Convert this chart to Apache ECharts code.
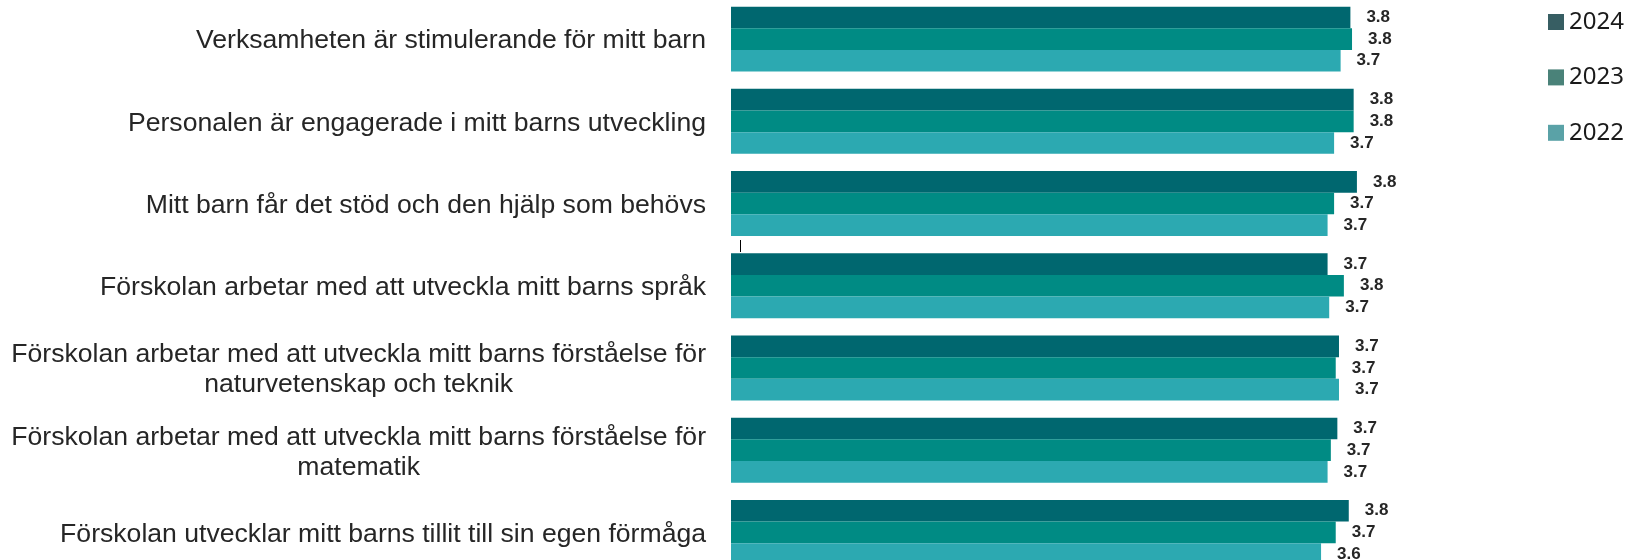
<!DOCTYPE html>
<html>
<head>
<meta charset="utf-8">
<script src="https://cdn.jsdelivr.net/npm/echarts@6/dist/echarts.min.js"></script>
<style>
  html, body { margin: 0; padding: 0; background: #fff; }
  #chart { width: 1629px; height: 560px; }
</style>
</head>
<body>
<div id="chart"></div>
<script>
const categories = [
  'Verksamheten är stimulerande för mitt barn',
  'Personalen är engagerade i mitt barns utveckling',
  'Mitt barn får det stöd och den hjälp som behövs',
  'Förskolan arbetar med att utveckla mitt barns språk',
  'Förskolan arbetar med att utveckla mitt barns förståelse för\nnaturvetenskap och teknik',
  'Förskolan arbetar med att utveckla mitt barns förståelse för\nmatematik',
  'Förskolan utvecklar mitt barns tillit till sin egen förmåga'
];
const years = ['2024', '2023', '2022'];
const values2024 = [3.80, 3.82, 3.84, 3.66, 3.73, 3.72, 3.79];
const values2023 = [3.81, 3.82, 3.70, 3.76, 3.71, 3.68, 3.71];
const values2022 = [3.74, 3.70, 3.66, 3.67, 3.73, 3.66, 3.62];

const barColors = ['#00676f', '#008b84', '#2ca9b1'];
const legendColors = ['#375e63', '#4a8279', '#5aa2a7'];

const chart = echarts.init(document.getElementById('chart'));

function makeSeries(name, data, i) {
  return {
    name: name,
    type: 'bar',
    data: data,
    barGap: '0%',
    barCategoryGap: '21%',
    itemStyle: { color: barColors[i] },
    label: {
      show: true,
      position: 'right',
      distance: 16,
      color: '#262626',
      fontFamily: 'Liberation Sans',
      fontWeight: 'bold',
      fontSize: 17,
      formatter: p => p.value.toFixed(1)
    }
  };
}

chart.setOption({
  animation: false,
  grid: {
    left: 731,
    top: -2,
    width: 4 * 163,
    height: 575.5,
    outerBoundsMode: 'none'
  },
  legend: {
    orient: 'vertical',
    left: 1548,
    top: 10,
    padding: 0,
    itemWidth: 16,
    itemHeight: 16,
    itemGap: 31.4,
    itemTextGap: 7,
    icon: 'rect',
    textStyle: {
      fontFamily: 'Noto Sans',
      fontSize: 24,
      color: '#1a1a1a',
      // narrower box so the legend is not pushed left; text runs to the edge like the original
      width: 40,
      overflow: 'none'
    },
    data: years.map((y, i) => ({ name: y, itemStyle: { color: legendColors[i] } }))
  },
  xAxis: {
    type: 'value',
    min: 0,
    max: 4,
    show: false
  },
  yAxis: {
    type: 'category',
    inverse: true,
    data: categories,
    axisLine: { show: false },
    axisTick: { show: false },
    axisLabel: {
      margin: 25,
      padding: [4, 0, 0, 0],
      color: '#262626',
      fontFamily: 'Liberation Sans',
      fontSize: 26.6,
      lineHeight: 30,
      formatter: v => v.split('\n').map(s => '{c|' + s + '}').join('\n'),
      rich: {
        c: {
          align: 'center',
          fontFamily: 'Liberation Sans',
          fontSize: 26.6,
          lineHeight: 30,
          color: '#262626'
        }
      }
    }
  },
  graphic: [{
    type: 'line',
    shape: { x1: 740.5, y1: 240, x2: 740.5, y2: 252 },
    style: { stroke: '#000', lineWidth: 1 }
  }],
  series: [
    makeSeries(years[0], values2024, 0),
    makeSeries(years[1], values2023, 1),
    makeSeries(years[2], values2022, 2)
  ]
});

window.addEventListener('resize', () => chart.resize());
</script>
</body>
</html>
